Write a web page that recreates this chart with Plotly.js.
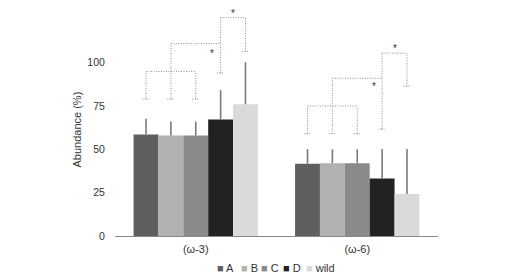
<!DOCTYPE html>
<html>
<head>
<meta charset="utf-8">
<script src="https://cdn.plot.ly/plotly-3.0.1.min.js"></script>
<style>html,body{margin:0;padding:0;background:#fff;}#chart{width:528px;height:277px;}</style>
</head>
<body>
<div id="chart"></div>
<script>
// ---- data ----
const categories = ['(ω-3)', '(ω-6)'];
const seriesNames = ['A', 'B', 'C', 'D', 'wild'];
const valuesA = [58.6, 41.7];
const valuesB = [58.0, 42.0];
const valuesC = [58.0, 42.0];
const valuesD = [67.2, 33.2];
const valuesWild = [76.0, 24.2];
const errorsA = [9.0, 8.4];
const errorsB = [8.0, 8.0];
const errorsC = [8.0, 8.0];
const errorsD = [17.0, 17.0];
const errorsWild = [24.3, 26.0];
const yTickVals = [0, 25, 50, 75, 100];
// significance bracket levels (per category): tick heights per bar, then bracket levels
const bracketTicksW3 = [79, 79, 79, 94, 106.5];
const bracketLevelsW3 = [95, 111, 126];
const starLevelsW3 = [107, 129.6];
const bracketTicksW6 = [59, 59, 59, 61.6, 86.4];
const bracketLevelsW6 = [75, 91, 105.5];
const starLevelsW6 = [88, 109.4];
const starText = '*';

// ---- styles ----
const colors = ['#5f5f5f', '#b1b1b1', '#8a8a8a', '#222222', '#dadada'];
const bargap = 0.23;
const FONT = 'Liberation Sans, Arial, sans-serif';
const textColor = '#333333';

const allValues = [valuesA, valuesB, valuesC, valuesD, valuesWild];
const allErrors = [errorsA, errorsB, errorsC, errorsD, errorsWild];

const traces = seriesNames.map((name, i) => ({
  type: 'bar',
  name: name,
  x: categories,
  y: allValues[i],
  marker: {color: colors[i], line: {width: 0}},
  error_y: {type: 'data', array: allErrors[i], arrayminus: allValues[i].map(() => 0), symmetric: false,
            color: '#7a7a7a', thickness: 1.6, width: 0},
  showlegend: false
}));

// bar centre in category units
const nS = seriesNames.length;
const groupW = 1 - bargap;
function barX(cat, i) { return cat - groupW / 2 + groupW / nS * (i + 0.5); }

const shapes = [];
const annotations = [];
const dotLine = {color: '#8c8c8c', width: 1, dash: '1px,1.5px'};
function seg(x0, y0, x1, y1) {
  shapes.push({type: 'line', xref: 'x', yref: 'y', x0, y0, x1, y1, line: dotLine});
}
const tickHalf = 0.022;
function brackets(cat, ticks, levels, stars) {
  const xs = seriesNames.map((_, i) => barX(cat, i));
  // small end ticks
  ticks.forEach((t, i) => seg(xs[i] - tickHalf, t, xs[i] + tickHalf, t));
  // level 1: A,B,C joined
  seg(xs[0], ticks[0], xs[0], levels[0]);
  seg(xs[1], ticks[1], xs[1], levels[1]);
  seg(xs[2], ticks[2], xs[2], levels[0]);
  seg(xs[0], levels[0], xs[2], levels[0]);
  // level 2: ABC group to D
  seg(xs[1], levels[1], xs[3], levels[1]);
  seg(xs[3], ticks[3], xs[3], levels[2]);
  // level 3: D to wild
  seg(xs[3], levels[2], xs[4], levels[2]);
  seg(xs[4], ticks[4], xs[4], levels[2]);
  // stars
  const starX = [xs[3] - 0.053, (xs[3] + xs[4]) / 2];
  stars.forEach((s, k) => annotations.push({
    xref: 'x', yref: 'y', x: starX[k], y: s - 1.5, text: starText, showarrow: false,
    xanchor: 'center', yanchor: 'middle', font: {family: FONT, size: 10, color: textColor}
  }));
}
brackets(0, bracketTicksW3, bracketLevelsW3, starLevelsW3);
brackets(1, bracketTicksW6, bracketLevelsW6, starLevelsW6);

// y-axis title
const plotL = 115, plotW = 323;
annotations.push({
  xref: 'paper', yref: 'paper', x: (77 - plotL) / plotW, y: 0.455, text: 'Abundance (%)', textangle: -90,
  showarrow: false, xanchor: 'center', yanchor: 'middle', font: {family: FONT, size: 11, color: textColor}
});

// legend as text row
const legendPx = [215, 238.5, 259, 281, 304];
seriesNames.forEach((name, i) => annotations.push({
  xref: 'paper', yref: 'paper', x: (legendPx[i] - plotL) / plotW, y: -0.137, xanchor: 'left', yanchor: 'middle',
  showarrow: false, text: '<span style="color:' + colors[i] + '">■</span> ' + name,
  font: {family: FONT, size: 11, color: textColor}
}));

const layout = {
  width: 528, height: 277,
  margin: {l: plotL, r: 528 - plotL - plotW, t: 2, b: 41},
  paper_bgcolor: '#ffffff', plot_bgcolor: '#ffffff',
  barmode: 'group', bargap: bargap, bargroupgap: 0,
  showlegend: false,
  font: {family: FONT, color: textColor},
  xaxis: {type: 'category', showline: true, linecolor: '#8a8a8a', linewidth: 1, showgrid: false, zeroline: false,
          ticks: 'outside', ticklen: 3, tickcolor: 'rgba(0,0,0,0)', tickfont: {family: FONT, size: 11, color: textColor},
          fixedrange: true},
  yaxis: {range: [0, 135], tickvals: yTickVals, ticktext: yTickVals.map(String), showline: false, showgrid: false,
          zeroline: false, ticks: 'outside', ticklen: 7, tickcolor: 'rgba(0,0,0,0)',
          tickfont: {family: FONT, size: 10.5, color: textColor}},
  shapes: shapes,
  annotations: annotations
};

Plotly.newPlot('chart', traces, layout, {displayModeBar: false, staticPlot: true});
</script>
</body>
</html>
